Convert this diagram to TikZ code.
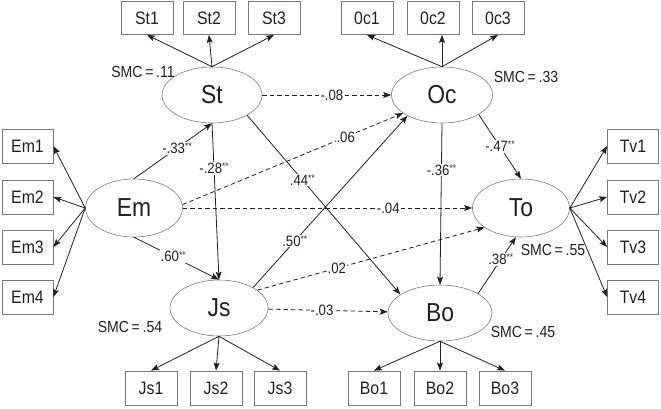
\documentclass[tikz,border=0pt]{standalone}
\usepackage{fontspec}
\setmainfont{Liberation Sans}[FakeStretch=0.88]
\usetikzlibrary{shapes.geometric,arrows.meta}
\definecolor{ink}{HTML}{231F20}
\definecolor{edgegray}{HTML}{7A7A7A}
\newcommand\sig{\raisebox{0.5ex}{\fontsize{9.5}{9.5}\selectfont **}}
\begin{document}
\begin{tikzpicture}[x=1pt,y=-1pt,
  lat/.style={ellipse,draw=edgegray,line width=0.6pt,minimum width=98pt,minimum height=56pt,inner sep=0pt,font=\fontsize{26}{26}\selectfont,text=ink},
  obs/.style={rectangle,draw=edgegray,line width=0.8pt,minimum width=52pt,minimum height=34pt,inner sep=0pt,font=\fontsize{18}{18}\selectfont,text=ink},
  conn/.style={draw=ink,line width=0.8pt,-{Stealth[length=8pt,width=6pt,inset=1.5pt]}},
  nsconn/.style={conn,dash pattern=on 4.5pt off 3pt},
  coef/.style={fill=white,inner sep=1pt,font=\fontsize{15}{15}\selectfont,text=ink},
  smc/.style={font=\fontsize{16}{16}\selectfont,text=ink,inner sep=0pt}
]
\useasboundingbox (0,0) rectangle (661,408);
% latent variables
\node[lat,minimum width=100pt] (St) at (212,95) {St};
\node[lat,minimum width=101pt] (Oc) at (442,95) {Oc};
\node[lat,minimum width=97pt,minimum height=58pt] (Em) at (134,208) {Em};
\node[lat,minimum width=97pt,minimum height=58pt] (To) at (521,208) {To};
\node[lat] (Js) at (219,308) {Js};
\node[lat,minimum width=104pt] (Bo) at (440,313) {Bo};
% observed variables
\node[obs,minimum height=33pt] (s1) at (147,18) {St1};
\node[obs,minimum height=33pt] (s2) at (209,18) {St2};
\node[obs,minimum height=33pt] (s3) at (274,18) {St3};
\node[obs,minimum height=33pt] (o1) at (367,18) {0c1};
\node[obs,minimum height=33pt] (o2) at (433,18) {0c2};
\node[obs,minimum height=33pt] (o3) at (498,18) {0c3};
\node[obs,minimum width=51pt] (e1) at (27.5,146) {Em1};
\node[obs,minimum width=51pt] (e2) at (27.5,197) {Em2};
\node[obs,minimum width=51pt] (e3) at (27.5,247) {Em3};
\node[obs,minimum width=51pt] (e4) at (27.5,297) {Em4};
\node[obs,minimum width=51pt] (t1) at (633,146) {Tv1};
\node[obs,minimum width=51pt] (t2) at (633,197) {Tv2};
\node[obs,minimum width=51pt] (t3) at (633,247) {Tv3};
\node[obs,minimum width=51pt] (t4) at (633,297) {Tv4};
\node[obs] (j1) at (151,388) {Js1};
\node[obs] (j2) at (216,388) {Js2};
\node[obs] (j3) at (280,388) {Js3};
\node[obs] (b1) at (374,388) {Bo1};
\node[obs] (b2) at (440,388) {Bo2};
\node[obs] (b3) at (505,388) {Bo3};
% measurement arrows
\foreach \b in {s1,s2,s3} \draw[conn] (St.north) -- (\b.south);
\draw[conn] (Oc.north) -- (o1.south);
\draw[conn] (Oc.north) -- (Oc.north |- o2.south);
\draw[conn] (Oc.north) -- (o3.south);
\foreach \b in {e1,e2,e3,e4} \draw[conn] (Em.west) -- (\b.east);
\foreach \b in {t1,t2,t3,t4} \draw[conn] (To.east) -- (\b.west);
\foreach \b in {j1,j2,j3} \draw[conn] (Js.south) -- (\b.north);
\foreach \b in {b1,b2,b3} \draw[conn] (Bo.south) -- (\b.north);
% structural paths
\draw[nsconn] (St) -- node[coef,pos=0.54]{-.08} (Oc);
\draw[conn] (Em.north) -- node[coef,pos=0.55]{-.33\sig} (St.south);
\draw[conn] (St.south) -- node[coef,pos=0.29]{-.28\sig} (Js.north);
\draw[conn] (St.-30) -- node[coef,pos=0.36]{.44\sig} (Bo.155);
\draw[nsconn] (Em.4) -- node[coef,pos=0.74]{.06} (Oc.205);
\draw[nsconn] (Em) -- node[coef,pos=0.71]{-.04} (To);
\draw[conn] (Em.south) -- node[coef,pos=0.46]{.60\sig} (Js.north);
\draw[conn] (Js.31) -- node[coef,pos=0.27]{.50\sig} (Oc.211);
\draw[nsconn] (Js.25) -- node[coef,pos=0.35]{.02} (To.208);
\draw[nsconn] (Js) -- node[coef,pos=0.45]{-.03} (Bo);
\draw[conn] (Oc.-28) -- node[coef,pos=0.5]{-.47\sig} (To.north);
\draw[conn] (Oc.south) -- node[coef,pos=0.29]{-.36\sig} (Bo.north);
\draw[conn] (Bo.27) -- node[coef,pos=0.6]{.38\sig} (To.260);
% squared multiple correlations
\node[smc] (m1) at (143,72) {SMC\,=\,.11};
\node[smc] (m2) at (526,77) {SMC\,=\,.33};
\node[smc] (m3) at (553,250) {SMC\,=\,.55};
\node[smc] (m4) at (130,327) {SMC\,=\,.54};
\node[smc] (m5) at (523,332) {SMC\,=\,.45};
\end{tikzpicture}
\end{document}
